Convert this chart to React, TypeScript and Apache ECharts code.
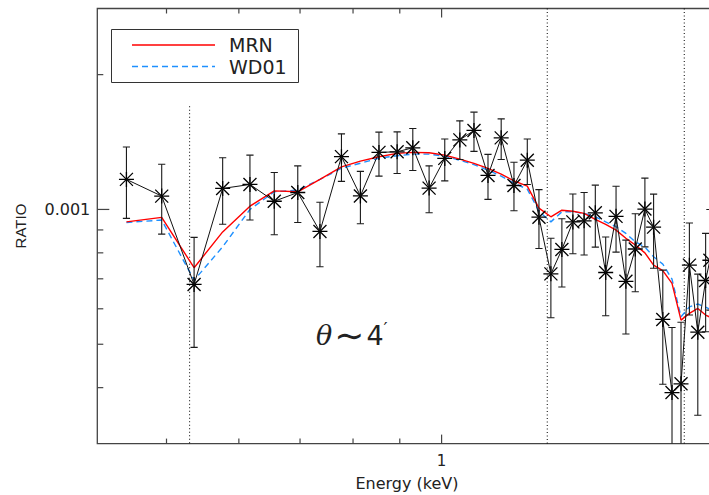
import React, { useEffect, useRef } from "react";
import * as echarts from "echarts";

// Energy of each bin (keV)
const energy = [
  0.452, 0.494, 0.536, 0.576, 0.617, 0.656, 0.696, 0.736, 0.777, 0.815,
  0.854, 0.894, 0.930, 0.969, 1.008, 1.047, 1.085, 1.124, 1.162, 1.200,
  1.241, 1.278, 1.317, 1.354, 1.392, 1.432, 1.473, 1.512, 1.552, 1.591,
  1.629, 1.669, 1.706, 1.746, 1.787, 1.828, 1.867, 1.907, 1.945, 1.966,
];
// Observed ratio and its error-bar limits
const ratio = [
  0.001167, 0.001071, 0.00068, 0.001114, 0.001137, 0.001043, 0.001091, 0.000893, 0.001312, 0.001072,
  0.001341, 0.001345, 0.001373, 0.001116, 0.0013, 0.00143, 0.001501, 0.001191, 0.001445, 0.001131,
  0.001288, 0.000961, 0.000718, 0.000814, 0.000938, 0.000943, 0.000983, 0.000723, 0.000965, 0.000691,
  0.000816, 0.001002, 0.000913, 0.000568, 0.00039, 0.000408, 0.000751, 0.000532, 0.000694, 0.00077,
];
const ratioHi = [
  0.001379, 0.001262, 0.000866, 0.001304, 0.001322, 0.001209, 0.001251, 0.001038, 0.001475, 0.001216,
  0.001488, 0.00149, 0.001516, 0.001251, 0.001437, 0.001577, 0.001649, 0.001327, 0.001593, 0.001275,
  0.001437, 0.001107, 0.000862, 0.000953, 0.001083, 0.001091, 0.001133, 0.000868, 0.001127, 0.000854,
  0.000978, 0.001175, 0.001082, 0.000732, 0.000545, 0.00056, 0.000933, 0.000717, 0.000884, 0.001,
];
const ratioLo = [
  0.000955, 0.000881, 0.000492, 0.000927, 0.000947, 0.000878, 0.000935, 0.000745, 0.001155, 0.000929,
  0.001187, 0.001203, 0.001222, 0.000983, 0.001158, 0.001293, 0.001348, 0.001053, 0.001293, 0.000993,
  0.001137, 0.000818, 0.000573, 0.000671, 0.000796, 0.000791, 0.000824, 0.000579, 0.000803, 0.000527,
  0.000655, 0.000825, 0.000739, 0.000407, 0.00025, 0.00025, 0.000581, 0.000347, 0.000533, 0.000596,
];
// Model curves
const mrn = [
  0.000938, 0.00096, 0.000741, 0.000891, 0.001017, 0.0011, 0.001095, 0.001167, 0.001245, 0.001282,
  0.001311, 0.001334, 0.001341, 0.001338, 0.001322, 0.001295, 0.001267, 0.001235, 0.001199, 0.001158,
  0.001127, 0.001007, 0.000963, 0.000996, 0.000991, 0.00098, 0.00095, 0.000926, 0.000899, 0.000862,
  0.000833, 0.0008, 0.000751, 0.00073, 0.000684, 0.000566, 0.000586, 0.000601, 0.000581, 0.000575,
];
const wd01 = [
  0.000935, 0.000947, 0.000695, 0.000825, 0.001, 0.001095, 0.001104, 0.001167, 0.001236, 0.001268,
  0.001302, 0.001318, 0.001329, 0.001329, 0.001315, 0.001288, 0.001259, 0.001224, 0.001187, 0.001145,
  0.00111, 0.000991, 0.000938, 0.000988, 0.000988, 0.00098, 0.000963, 0.000938, 0.000915, 0.000884,
  0.000847, 0.000824, 0.000784, 0.000755, 0.000699, 0.000576, 0.000606, 0.000615, 0.000605, 0.000599,
];
// Edge markers (keV) and the ratio where each dotted line starts
const edgeEnergy = [0.53, 1.305, 1.843];
const edgeTop = [0.0017, 0.00281, 0.00281];
// Axis ranges and ticks
const X_MIN = 0.42;
const X_MAX = 2.0;
const Y_MIN = 0.0003;
const Y_MAX = 0.00281;
const xMinorTicks = [0.5, 0.6, 0.7, 0.8, 0.9];
const xMajorTicks = [1];
const yMinorTicks = [0.0004, 0.0005, 0.0006, 0.0007, 0.0008, 0.0009, 0.002];
const yMajorTicks = [0.001];
const xTickLabel = "1";
const yTickLabel = "0.001";

const SANS = "DejaVu Sans";
const INK = "#222";

export default function App() {
  const ref = useRef<HTMLDivElement>(null);

  useEffect(() => {
    if (!ref.current) return;
    const chart = echarts.init(ref.current, undefined, { renderer: "svg" });

    const pts = energy.map((e, i) => [e, ratio[i], ratioLo[i], ratioHi[i]]);

    const option: any = {
      animation: false,
      backgroundColor: "#fff",
      grid: {
        left: 97.3,
        top: 8.5,
        right: -7.7,
        bottom: 51.4,
        show: true,
        borderColor: "#444",
        borderWidth: 1.3,
        containLabel: false,
        outerBoundsMode: "none",
      },
      xAxis: {
        type: "log",
        logBase: 10,
        min: X_MIN,
        max: X_MAX,
        axisLine: { show: false },
        axisTick: { show: false },
        splitLine: { show: false },
        minorTick: { show: false },
        axisLabel: {
          formatter: (v: number) => (Math.abs(v - 1) < 1e-6 ? xTickLabel : ""),
          fontFamily: SANS,
          fontSize: 15,
          color: INK,
          margin: 10,
          showMinLabel: false,
          showMaxLabel: false,
        },
        name: "Energy (keV)",
        nameLocation: "middle",
        nameGap: 32,
        nameTextStyle: { fontFamily: SANS, fontSize: 16, color: INK },
      },
      yAxis: {
        type: "log",
        logBase: 10,
        min: Y_MIN,
        max: Y_MAX,
        axisLine: { show: false },
        axisTick: { show: false },
        splitLine: { show: false },
        minorTick: { show: false },
        axisLabel: {
          formatter: (v: number) => (Math.abs(v / 0.001 - 1) < 1e-6 ? yTickLabel : ""),
          fontFamily: SANS,
          fontSize: 16,
          color: INK,
          margin: 7,
          showMinLabel: false,
          showMaxLabel: false,
        },
        name: "RATIO",
        nameLocation: "middle",
        nameGap: 69,
        nameRotate: 90,
        nameTextStyle: { fontFamily: "Liberation Sans", fontSize: 15, color: INK },
      },
      series: [
        // axis ticks (inward, IDL style)
        {
          type: "custom",
          silent: true,
          clip: false,
          z: 5,
          data: [[1, 0.001]],
          renderItem: (_p: any, api: any) => {
            const children: any[] = [];
            const st = { stroke: "#444", lineWidth: 1.2 };
            const addX = (v: number, len: number) => {
              const b = api.coord([v, Y_MIN]);
              const t = api.coord([v, Y_MAX]);
              children.push({ type: "line", shape: { x1: b[0], y1: b[1], x2: b[0], y2: b[1] - len }, style: st });
              children.push({ type: "line", shape: { x1: t[0], y1: t[1], x2: t[0], y2: t[1] + len }, style: st });
            };
            const addY = (v: number, len: number) => {
              const l = api.coord([X_MIN, v]);
              children.push({ type: "line", shape: { x1: l[0], y1: l[1], x2: l[0] + len, y2: l[1] }, style: st });
            };
            xMinorTicks.forEach((v) => addX(v, 5));
            xMajorTicks.forEach((v) => addX(v, 9));
            yMinorTicks.forEach((v) => addY(v, 6));
            yMajorTicks.forEach((v) => addY(v, 12));
            return { type: "group", children };
          },
        },
        // edge dotted lines
        ...edgeEnergy.map((e, i) => ({
          type: "line",
          silent: true,
          symbol: "none",
          z: 1,
          data: [
            [e, edgeTop[i]],
            [e, Y_MIN],
          ],
          lineStyle: { color: "#000", width: 1, type: [1, 2.5] },
        })),
        {
          name: "WD01",
          type: "line",
          symbol: "none",
          z: 2,
          data: energy.map((e, i) => [e, wd01[i]]),
          lineStyle: { color: "#1E90FF", width: 1.4, type: [6, 4] },
        },
        {
          name: "MRN",
          type: "line",
          symbol: "none",
          z: 3,
          data: energy.map((e, i) => [e, mrn[i]]),
          lineStyle: { color: "#FF0000", width: 1.4 },
        },
        {
          name: "data",
          type: "line",
          symbol: "none",
          z: 4,
          data: energy.map((e, i) => [e, ratio[i]]),
          lineStyle: { color: "#111", width: 1 },
        },
        {
          name: "errors",
          type: "custom",
          clip: true,
          z: 4,
          data: pts,
          encode: { x: 0, y: 1 },
          renderItem: (_p: any, api: any) => {
            const x = api.value(0);
            const c = api.coord([x, api.value(1)]);
            const lo = api.coord([x, api.value(2)]);
            const hi = api.coord([x, api.value(3)]);
            const st = { stroke: "#1a1a1a", lineWidth: 1.1 };
            const ms = { stroke: "#000", lineWidth: 1.3 };
            const cw = 3.6;
            const r = 7.5;
            const d = 6.5;
            return {
              type: "group",
              children: [
                { type: "line", shape: { x1: hi[0], y1: hi[1], x2: lo[0], y2: lo[1] }, style: st },
                { type: "line", shape: { x1: hi[0] - cw, y1: hi[1], x2: hi[0] + cw, y2: hi[1] }, style: st },
                { type: "line", shape: { x1: lo[0] - cw, y1: lo[1], x2: lo[0] + cw, y2: lo[1] }, style: st },
                { type: "line", shape: { x1: c[0] - r, y1: c[1], x2: c[0] + r, y2: c[1] }, style: ms },
                { type: "line", shape: { x1: c[0], y1: c[1] - r, x2: c[0], y2: c[1] + r }, style: ms },
                { type: "line", shape: { x1: c[0] - d, y1: c[1] - d, x2: c[0] + d, y2: c[1] + d }, style: ms },
                { type: "line", shape: { x1: c[0] - d, y1: c[1] + d, x2: c[0] + d, y2: c[1] - d }, style: ms },
              ],
            };
          },
        },
      ],
      graphic: [
        {
          type: "rect",
          z: 100,
          shape: { x: 111.5, y: 29.5, width: 187, height: 53 },
          style: { fill: "#fff", stroke: "#333", lineWidth: 1 },
        },
        {
          type: "line",
          z: 101,
          shape: { x1: 132, y1: 45, x2: 215, y2: 45 },
          style: { stroke: "#FF0000", lineWidth: 1.4 },
        },
        {
          type: "line",
          z: 101,
          shape: { x1: 132, y1: 66.5, x2: 215, y2: 66.5 },
          style: { stroke: "#1E90FF", lineWidth: 1.4, lineDash: [6, 4] },
        },
        {
          type: "text",
          z: 101,
          x: 229,
          y: 44.5,
          style: {
            text: "MRN",
            fontFamily: SANS,
            fontSize: 19,
            lineHeight: 19,
            fill: INK,
            textAlign: "left",
            textVerticalAlign: "middle",
          },
        },
        {
          type: "text",
          z: 101,
          x: 229,
          y: 66.5,
          style: {
            text: "WD01",
            fontFamily: SANS,
            fontSize: 19,
            lineHeight: 19,
            fill: INK,
            textAlign: "left",
            textVerticalAlign: "middle",
          },
        },
        {
          type: "text",
          z: 101,
          x: 316,
          y: 335,
          style: {
            text: "{a|θ}{t|∼}{b|4}{c|′}",
            textAlign: "left",
            textVerticalAlign: "middle",
            rich: {
              a: { fontFamily: "DejaVu Serif", fontStyle: "italic", fontSize: 27, fill: INK, lineHeight: 32 },
              t: { fontFamily: SANS, fontSize: 36, fill: INK, lineHeight: 32, padding: [0, 2, 0, 2] },
              b: { fontFamily: SANS, fontSize: 27, fill: INK, lineHeight: 32 },
              c: { fontFamily: SANS, fontSize: 18, fill: INK, lineHeight: 32, verticalAlign: "top" },
            },
          },
        },
      ],
    };

    chart.setOption(option);
    return () => chart.dispose();
  }, []);

  return (
    <div
      ref={ref}
      style={{ position: "absolute", left: 0, top: 0, width: 709, height: 495 }}
    />
  );
}
